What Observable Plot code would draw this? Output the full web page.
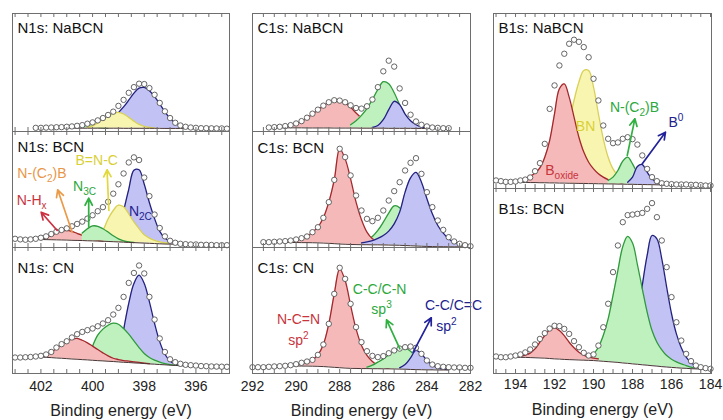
<!DOCTYPE html>
<html>
<head>
<meta charset="utf-8">
<script src="https://cdn.jsdelivr.net/npm/d3@7"></script>
<script src="https://cdn.jsdelivr.net/npm/@observablehq/plot@0.6"></script>
<style>
  html, body { margin: 0; padding: 0; background: #fff; }
  #fig { position: relative; width: 723px; height: 420px; overflow: hidden; background: #fff;
         font-family: "Liberation Sans", Arial, sans-serif; }
  #fig svg { position: absolute; overflow: visible; }
</style>
</head>
<body>
<div id="fig"></div>
<script>
const _ = null;

// ---------- energy grids (eV) ----------
const N1S_EV = [403.0,402.8,402.6,402.4,402.2,402.0,401.8,401.6,401.4,401.2,401.0,400.8,400.6,400.4,400.2,400.0,399.8,399.6,399.4,399.2,399.0,398.8,398.6,398.4,398.2,398.0,397.8,397.6,397.4,397.2,397.0,396.8,396.6,396.4,396.2,396.0,395.8,395.6,395.4,395.2,395.0,394.8];
const C1S_EV = [292.0,291.75,291.5,291.25,291.0,290.75,290.5,290.25,290.0,289.75,289.5,289.25,289.0,288.75,288.5,288.25,288.0,287.75,287.5,287.25,287.0,286.75,286.5,286.25,286.0,285.75,285.5,285.25,285.0,284.75,284.5,284.25,284.0,283.75,283.5,283.25,283.0,282.75,282.5,282.25,282.0];
const B1S_EV = [195.0,194.75,194.5,194.25,194.0,193.75,193.5,193.25,193.0,192.75,192.5,192.25,192.0,191.75,191.5,191.25,191.0,190.75,190.5,190.25,190.0,189.75,189.5,189.25,189.0,188.75,188.5,188.25,188.0,187.75,187.5,187.25,187.0,186.75,186.5,186.25,186.0,185.75,185.5,185.25,185.0,184.75,184.5,184.25,184.0];

// ---------- N1s ----------
const N1S_NABCN_OBS = [_,_,_,_,3.1, 3.1,3.3,3.4,3.6,3.7, 4.0,4.3,4.8,5.4,6.6, 7.7,9.4,11.4,14.0,16.8, 21.7,26.8,32.8,37.6,40.5, 40.2,36.8,31.1,24.2,17.1, 11.4,7.4,5.1,4.0,3.4, 3.1,2.8,2.8,2.7,2.6, 2.6,2.4];
const N1S_NABCN_BASE = [_,_,_,_,2.9, 2.9,2.9,2.9,2.9,2.9, 2.9,2.9,2.8,2.8,2.8, 2.8,2.8,2.8,2.8,2.8, 2.8,2.7,2.7,2.7,2.7, 2.7,2.7,2.7,2.7,2.6, 2.6,2.6,2.6,2.6,2.6, 2.6];
const N1S_NABCN_GREEN = [_,_,_,_,_, _,_,_,_,_, 3.4,3.8,4.4,5.0,5.0, 4.3,3.6,3.1,2.9];
const N1S_NABCN_YELLOW = [_,_,_,_,_, _,_,_,_,_, _,_,_,_,3.6, 4.8,7.4,10.5,13.4,15.4, 16.2,14.8,12.0,8.8,6.0, 4.3,3.4,3.0];
const N1S_NABCN_BLUE = [_,_,_,_,_, _,_,_,_,_, _,_,_,_,_, _,_,_,_,_, 16.0,20.8,26.5,32.5,36.8, 37.3,34.5,29.6,23.4,16.8, 11.1,7.1,4.8,3.7,3.1, 2.8];

const N1S_BCN_OBS = [7.5,7.0,6.7,7.0,7.5, 8.4,9.6,11.6,13.6,15.1, 16.5,18.3,20.3,22.3,24.9, 27.8,31.3,34.8,39.4,46.4, 54.5,63.8,73.3,77.7,75.4, 60.3,44.3,28.4,16.8,9.6, 5.8,4.1,3.2,2.9,2.6, 2.6,2.3,2.3,2.2,2.0, 2.0,2.0];
const N1S_BCN_BASE = [_,_,_,_,7.0, 6.9,6.8,6.7,6.6,6.5, 6.4,6.2,6.1,6.0,5.8, 5.7,5.5,5.4,5.2,5.0, 4.8,4.6,4.4,4.2,4.0, 3.8,3.6,3.4,3.2,3.0, 2.9,2.8,2.7,2.6,2.5, 2.4];
const N1S_BCN_RED = [_,_,_,_,_, 7.6,8.7,10.4,12.5,14.2, 14.8,13.9,12.2,10.4,8.7, 7.2,6.2,5.6];
const N1S_BCN_ORANGE = [_,_,_,_,_, _,_,7.5,8.6,9.8, 10.9,11.7,11.6,11.2,10.5, 9.8,9.0,8.2,7.4,6.5, 5.8,5.2,4.8];
const N1S_BCN_GREEN = [_,_,_,_,_, _,_,_,_,_, _,_,_,12.5,16.2, 18.6,18.3,16.2,13.3,10.1, 7.5,5.8,4.8,4.3];
const N1S_BCN_YELLOW = [_,_,_,_,_, _,_,_,_,_, _,_,_,_,_, _,8.1,14.5,24.6,31.9, 36.5,35.1,29.0,22.0,16.2, 11.0,8.1,6.1,4.9,4.1, 3.5];
const N1S_BCN_BLUE = [_,_,_,_,_, _,_,_,_,_, _,_,_,_,_, _,_,_,_,_, _,31.3,50.1,66.5,67.0, 54.5,38.6,24.9,13.9,8.1, 5.2,3.8,3.2,2.9,2.7, 2.5];

const N1S_CN_OBS = [12.7,12.7,12.9,13.1,13.5, 14.0,15.1,17.1,20.6,23.3, 25.6,28.6,31.2,33.0,34.4, 35.7,37.5,39.7,42.3,46.8, 52.1,60.8,71.9,79.8,85.7, 79.4,60.8,42.8,27.8,17.1, 11.3,9.0,7.7,6.9,6.6, 6.3,5.9,5.8,5.6,5.5, 5.4,5.3];
const N1S_CN_BASE = [_,_,_,_,_, 13.1,12.8,12.6,12.3,12.1, 11.8,11.5,11.3,11.0,10.8, 10.5,10.2,10.0,9.7,9.5, 9.2,8.9,8.7,8.4,8.2, 7.9,7.6,7.4,7.1,6.9, 6.6,6.4,6.2,6.0,5.9, 5.8];
const N1S_CN_RED = [_,_,_,_,_, 13.5,14.5,16.9,19.8,23.0, 25.6,27.2,27.8,26.4,24.3, 21.7,19.0,16.4,14.0,12.1, 11.1,10.3,9.8,9.3,8.8, 8.3,7.8];
const N1S_CN_GREEN = [_,_,_,_,_, _,_,_,_,_, _,_,_,_,_, 21.7,30.4,35.2,38.3,39.9, 39.1,35.7,31.2,25.9,20.6, 15.9,12.7,10.6,9.0,7.9, 7.1,6.6,6.3];
const N1S_CN_BLUE = [_,_,_,_,_, _,_,_,_,_, _,_,_,_,_, _,_,_,_,_, _,34.4,55.6,71.4,78.0, 71.4,56.8,39.7,25.1,15.3, 10.0,7.6,6.6,6.2,6.0];

// ---------- C1s ----------
const C1S_NABCN_OBS = [_,_,_,3.4,3.7, 4.0,4.6,5.4,6.8,8.8, 11.7,15.1,18.5,21.9,24.8, 26.5,26.2,24.8,22.2,19.9, 19.4,21.4,27.1,37.6,51.0, 60.0,55.0,36.5,24.2,14.2, 8.5,5.7,4.3,3.4,3.1, 2.8,2.8];
const C1S_NABCN_BASE = [_,_,_,3.2,3.2, 3.2,3.1,3.1,3.1,3.1, 3.0,3.0,3.0,3.0,3.0, 2.9,2.9,2.9,2.9,2.9, 2.8,2.8,2.8,2.8,2.8, 2.7,2.7,2.7,2.7,2.7, 2.6,2.6,2.6,2.6,2.6, 2.6,2.6];
const C1S_NABCN_RED = [_,_,_,_,_, _,4.3,5.1,6.6,8.5, 11.4,14.8,18.2,21.7,24.8, 26.5,26.2,24.2,20.5,15.7, 11.4,8.0,5.7,4.3,3.4];
const C1S_NABCN_GREEN = [_,_,_,_,_, _,_,_,_,_, _,_,_,_,_, _,_,_,5.7,9.1, 13.7,19.4,27.1,35.6,42.2, 40.5,32.8,22.8,14.2,8.5, 5.1,3.4,2.8];
const C1S_NABCN_BLUE = [_,_,_,_,_, _,_,_,_,_, _,_,_,_,_, _,_,_,_,_, _,_,3.4,5.1,10.0, 18.5,25.6,22.8,14.8,9.1, 5.7,3.7,2.8];

const C1S_BCN_OBS = [_,_,4.6,4.6,4.9, 5.2,5.5,6.0,6.9,8.0, 9.5,13.2,17.5,25.6,39.1, 58.3,85.1,77.9,62.1,44.8, 31.9,24.7,22.7,25.6,31.9, 40.5,48.6,56.3,66.4,73.0, 77.0,63.5,47.7,34.8,23.3, 15.2,8.9,5.2,3.2,2.0, 1.1];
const C1S_BCN_BASE = [_,_,4.4,4.4,4.4, 4.4,4.3,4.3,4.3,4.2, 4.2,4.1,4.0,3.8,3.6, 3.3,3.0,2.8,2.6,2.5, 2.4,2.4,2.3,2.3,2.2, 2.1,2.0,1.9,1.7,1.5, 1.3,1.1,0.9,0.8,0.7, 0.7,0.6,0.6,0.6,0.6, 0.6];
const C1S_BCN_RED = [_,_,_,_,_, 4.6,5.3,6.0,6.6,7.8, 9.5,13.2,17.5,25.6,39.1, 58.3,85.1,76.4,59.2,39.1, 23.9,13.2,7.5,5.2,4.3, 3.5];
const C1S_BCN_GREEN = [_,_,_,_,_, _,_,_,_,_, _,_,_,_,_, _,_,_,_,_, 5.2,6.6,9.5,14.7,21.8, 29.6,35.9,34.2,24.7,14.7, 8.3,5.2,3.7,2.8];
const C1S_BCN_BLUE = [_,_,_,_,_, _,_,_,_,_, _,_,_,_,_, _,_,_,_,_, 4.0,4.9,6.0,7.8,10.3, 14.1,20.4,30.5,47.7,60.1, 64.7,56.3,42.0,29.0,19.0, 12.4,7.5,4.6,3.2,2.0, 1.1];

const C1S_CN_OBS = [5.0,5.0,5.0,5.3,5.6, 5.8,6.1,6.6,7.4,8.5, 9.5,10.8,14.8,23.0,39.4, 63.2,83.9,75.1,55.3,36.8, 24.9,17.7,14.0,13.0,13.8, 16.1,18.3,19.8,20.9,21.4, 20.4,15.6,10.3,7.1,5.8, 5.3,5.0,4.8,4.8,4.5, 4.5];
const C1S_CN_BASE = [_,_,_,_,_, _,_,6.0,6.0,5.9, 5.9,5.8,5.7,5.5,5.2, 4.9,4.6,4.3,4.1,4.0, 3.9,3.9,3.8,3.8,3.7, 3.7,3.6,3.5,3.4,3.2, 3.1,3.0,2.9,2.9,2.8, 2.8,2.8];
const C1S_CN_RED = [_,_,_,_,_, _,_,_,6.6,7.7, 9.0,10.8,14.8,23.0,39.4, 63.2,83.1,73.8,54.0,35.4, 22.2,14.3,9.5,6.6,5.0, 4.3];
const C1S_CN_GREEN = [_,_,_,_,_, _,_,_,_,_, _,_,_,_,_, _,_,_,_,_, _,5.0,6.6,9.0,11.6, 14.8,18.3,20.4,20.4,17.7, 13.0,8.2,5.0,3.4];
const C1S_CN_BLUE = [_,_,_,_,_, _,_,_,_,_, _,_,_,_,_, _,_,_,_,_, _,_,_,_,_, _,_,4.5,7.1,12.4, 18.3,15.6,10.3,6.6,4.5, 3.4,3.1];

// ---------- B1s ----------
const B1S_NABCN_OBS = [4.6,4.2,3.8,3.8,4.0, 4.6,5.1,6.3,9.9,14.5, 25.5,45.5,58.9,70.3,77.0, 82.7,85.0,83.8,80.8,75.0, 62.7,50.3,36.0,28.4,25.9, 26.3,28.4,29.3,28.2,25.1, 18.9,11.2,6.5,4.2,3.0, 2.7,2.5,2.3,2.3,2.3, 2.1,2.1,1.9,1.7,1.7];
const B1S_NABCN_BASE = [_,_,_,3.6,3.6, 3.5,3.5,3.4,3.4,3.3, 3.3,3.2,3.2,3.1,3.1, 3.0,3.0,2.9,2.9,2.8, 2.8,2.7,2.7,2.6,2.6, 2.5,2.5,2.4,2.4,2.3, 2.3,2.2,2.2,2.1,2.1, 2.0,2.0];
const B1S_NABCN_RED = [_,_,_,3.8,4.2, 5.0,5.7,6.9,8.8,11.8, 17.9,27.4,42.7,57.0,59.8, 52.2,40.8,29.3,20.8,15.0, 11.2,8.4,6.5,5.1,4.2, 3.6,3.0];
const B1S_NABCN_YELLOW = [_,_,_,_,_, _,_,_,_,_, _,_,_,_,_, 38.0,50.3,60.8,67.4,67.4, 57.9,42.7,28.4,17.9,11.2, 7.4,5.0,3.6,2.8];
const B1S_NABCN_GREEN = [_,_,_,_,_, _,_,_,_,_, _,_,_,_,_, _,_,_,_,_, _,_,_,4.6,6.5, 10.3,15.6,17.9,14.1,8.8, 5.5,4.0,3.2];
const B1S_NABCN_BLUE = [_,_,_,_,_, _,_,_,_,_, _,_,_,_,_, _,_,_,_,_, _,_,_,_,_, _,_,3.6,6.5,12.6, 13.7,9.3,5.5,3.6,2.9, 2.4];

const B1S_BCN_OBS = [9.2,8.8,8.8,9.2,9.7, 10.3,11.4,13.0,15.7,18.7, 21.8,24.3,25.8,25.6,24.1, 21.4,17.5,14.2,11.2,9.7, 10.3,15.1,25.0,37.7,54.8, 69.2,81.8,85.6,85.9,86.3, 86.8,89.0,92.1,84.5,71.9, 57.5,41.3,27.7,17.8,10.6, 6.7,4.3,3.4,2.9,2.5];
const B1S_BCN_BASE = [8.8,8.8,8.8,8.8,8.8, 8.7,8.7,8.6,8.5,8.4, 8.3,8.1,7.9,7.8,7.6, 7.5,7.4,7.3,7.2,7.1, 7.0,6.8,6.6,6.4,6.2, 6.0,5.7,5.5,5.2,5.0, 4.7,4.5,4.2,4.0,3.7, 3.5,3.3,3.1,2.9,2.8, 2.6,2.5,2.4,2.3,2.2];
const B1S_BCN_RED = [_,_,_,_,_, 9.2,9.9,11.0,13.3,16.9, 20.5,23.6,24.7,23.2,20.5, 16.9,13.9,11.5,9.9,8.8, 8.3,7.9];
const B1S_BCN_GREEN = [_,_,_,_,_, _,_,_,_,_, _,_,_,_,_, _,_,_,7.9,8.8, 10.6,14.2,20.5,29.5,42.2, 55.7,68.6,74.1,70.5,58.9, 45.8,33.2,23.2,16.9,12.8, 9.7,7.7,6.3,5.2,4.3, 3.4,2.9];
const B1S_BCN_BLUE = [_,_,_,_,_, _,_,_,_,_, _,_,_,_,_, _,_,_,_,_, _,_,_,_,_, _,_,_,_,30.0, 47.6,63.8,74.6,72.8,62.0, 46.7,32.3,21.4,13.9,8.8, 5.9,4.1,3.2,2.7,2.3];

// ---------- tick labels / titles ----------
const N1S_TICKS = [402, 400, 398, 396];
const C1S_TICKS = [292, 290, 288, 286, 284, 282];
const B1S_TICKS = [194, 192, 190, 188, 186, 184];
const AXIS_TITLE = "Binding energy (eV)";

// ---------- annotations (eV, intensity) ----------
const N1S_BCN_LABELS = [
  {t: "N-H_{x}", x: 402.36, y: 40.5, k: "red"},
  {t: "N-(C_{2})B", x: 401.96, y: 63.8, k: "orange"},
  {t: "N_{3C}", x: 400.31, y: 52.6, k: "green"},
  {t: "B=N-C", x: 399.84, y: 74.6, k: "yellow"},
  {t: "N_{2C}", x: 398.15, y: 31.0, k: "blue"}
];
const N1S_BCN_ARROWS = [
  {x1: 401.37, y1: 14.7, x2: 401.99, y2: 30.4, k: "red"},
  {x1: 400.79, y1: 13.2, x2: 401.35, y2: 49.7, k: "orange"},
  {x1: 400.15, y1: 18.1, x2: 400.15, y2: 42.5, k: "green"},
  {x1: 399.37, y1: 31.9, x2: 399.44, y2: 67.0, k: "yellow"}
];
const C1S_CN_LABELS = [
  {t: "N-C=N", x: 289.89, y: 42.7, k: "red"},
  {t: "sp^{2}", x: 289.89, y: 26.2, k: "red"},
  {t: "C-C/C-N", x: 286.17, y: 66.7, k: "green"},
  {t: "sp^{3}", x: 286.08, y: 50.8, k: "green"},
  {t: "C-C/C=C", x: 282.78, y: 54.0, k: "blue"},
  {t: "sp^{2}", x: 283.10, y: 37.3, k: "blue"}
];
const C1S_CN_ARROWS = [
  {x1: 285.24, y1: 19.6, x2: 285.85, y2: 42.6, k: "green"},
  {x1: 284.63, y1: 16.9, x2: 283.80, y2: 44.2, k: "blue"}
];
const B1S_NABCN_LABELS = [
  {t: "BN", x: 190.41, y: 35.4, k: "yellow"},
  {t: "B_{oxide}", x: 191.62, y: 10.3, k: "red"},
  {t: "N-(C_{2})B", x: 187.90, y: 46.3, k: "green"},
  {t: "B^{0}", x: 185.77, y: 37.7, k: "blue"}
];
const B1S_NABCN_ARROWS = [
  {x1: 188.27, y1: 18.9, x2: 187.88, y2: 39.8, k: "green"},
  {x1: 187.50, y1: 14.1, x2: 186.31, y2: 32.2, k: "blue"}
];

// ---------- styles & layout ----------
const FILL = {red: "#f5b9b9", green: "#bff1bf", blue: "#c2c2f4", yellow: "#f8f5b0", orange: "#fbd8b4"};
const LINE = {red: "#a3282c", green: "#2f9a3c", blue: "#22227e", yellow: "#d8d058", orange: "#e0913c"};
const LABEL_COLOR = {red: "#c8343c", orange: "#e8964a", green: "#2ca83c", yellow: "#d9cf36", blue: "#22228e"};
const ARROW_COLOR = {red: "#cc3040", orange: "#eb9a48", green: "#30b040", yellow: "#e2d83c", blue: "#22229a"};

const COL_LEFT = [12, 252, 493];
const COL_W = [217, 218, 218];
const DOMAINS = [[403.1, 394.7], [292, 282], [195.13, 183.95]];
const ROW_TOP = [[13, 131, 247], [13, 131, 247], [13, 188]];
const ROW_H = [[118, 116, 126], [118, 116, 126], [175, 185]];
const TICKLABEL_DY = [13, 13, 11];
const TITLE_DY = [37, 37, 36];
const MINOR = [d3.range(395, 403.01, 0.5), d3.range(282, 292.01, 0.5), d3.range(184, 195.01, 0.5)];
const TICK_LABELS = [N1S_TICKS, C1S_TICKS, B1S_TICKS];

const PANELS = [
  {col: 0, row: 0, title: "N1s: NaBCN", titleDy: 14.5, ev: N1S_EV, obs: N1S_NABCN_OBS, base: N1S_NABCN_BASE,
   comps: [["blue", N1S_NABCN_BLUE], ["green", N1S_NABCN_GREEN], ["yellow", N1S_NABCN_YELLOW]]},
  {col: 0, row: 1, title: "N1s: BCN", titleDy: 16, ev: N1S_EV, obs: N1S_BCN_OBS, base: N1S_BCN_BASE,
   comps: [["blue", N1S_BCN_BLUE], ["yellow", N1S_BCN_YELLOW], ["orange", N1S_BCN_ORANGE], ["red", N1S_BCN_RED], ["green", N1S_BCN_GREEN]],
   labels: N1S_BCN_LABELS, arrows: N1S_BCN_ARROWS},
  {col: 0, row: 2, title: "N1s: CN", titleDy: 20.5, ev: N1S_EV, obs: N1S_CN_OBS, base: N1S_CN_BASE,
   comps: [["blue", N1S_CN_BLUE], ["green", N1S_CN_GREEN], ["red", N1S_CN_RED]]},
  {col: 1, row: 0, title: "C1s: NaBCN", titleDy: 14.5, ev: C1S_EV, obs: C1S_NABCN_OBS, base: C1S_NABCN_BASE,
   comps: [["red", C1S_NABCN_RED], ["green", C1S_NABCN_GREEN], ["blue", C1S_NABCN_BLUE]]},
  {col: 1, row: 1, title: "C1s: BCN", titleDy: 17, ev: C1S_EV, obs: C1S_BCN_OBS, base: C1S_BCN_BASE,
   comps: [["green", C1S_BCN_GREEN], ["red", C1S_BCN_RED], ["blue", C1S_BCN_BLUE]]},
  {col: 1, row: 2, title: "C1s: CN", titleDy: 21, ev: C1S_EV, obs: C1S_CN_OBS, base: C1S_CN_BASE,
   comps: [["red", C1S_CN_RED], ["green", C1S_CN_GREEN], ["blue", C1S_CN_BLUE]],
   labels: C1S_CN_LABELS, arrows: C1S_CN_ARROWS},
  {col: 2, row: 0, title: "B1s: NaBCN", titleDy: 14.5, ev: B1S_EV, obs: B1S_NABCN_OBS, base: B1S_NABCN_BASE,
   comps: [["yellow", B1S_NABCN_YELLOW], ["red", B1S_NABCN_RED], ["green", B1S_NABCN_GREEN], ["blue", B1S_NABCN_BLUE]],
   labels: B1S_NABCN_LABELS, arrows: B1S_NABCN_ARROWS},
  {col: 2, row: 1, title: "B1s: BCN", titleDy: 21, ev: B1S_EV, obs: B1S_BCN_OBS, base: B1S_BCN_BASE,
   comps: [["blue", B1S_BCN_BLUE], ["green", B1S_BCN_GREEN], ["red", B1S_BCN_RED]]}
];

// sub/superscript markup  _{..}  ^{..}  -> tspans
function rich(svg, fs) {
  svg.querySelectorAll("text").forEach(el => {
    const s = el.textContent;
    if (!/[_^]\{/.test(s)) return;
    el.textContent = "";
    const re = /([_^])\{([^}]*)\}|([^_^]+)/g;
    let m, shift = 0;
    while ((m = re.exec(s))) {
      const t = document.createElementNS("http://www.w3.org/2000/svg", "tspan");
      if (m[3] !== undefined) {
        t.textContent = m[3];
        if (shift) t.setAttribute("dy", String(-shift));
        shift = 0;
      } else {
        const d = m[1] === "_" ? 0.28 * fs : -0.4 * fs;
        t.textContent = m[2];
        t.setAttribute("dy", String(d - shift));
        t.setAttribute("font-size", String(0.72 * fs));
        shift = d;
      }
      el.appendChild(t);
    }
  });
}

const fig = document.getElementById("fig");
for (const p of PANELS) {
  const c = p.col;
  const left = COL_LEFT[c], width = COL_W[c];
  const top = ROW_TOP[c][p.row], h = ROW_H[c][p.row];
  const bottom = p.row === ROW_TOP[c].length - 1;
  const mb = bottom ? 48 : 0;
  const pts = p.ev.map((x, i) => ({x, obs: p.obs[i], base: p.base[i]}));
  const marks = [];
  for (const [key, vals] of p.comps) {
    const d = p.ev.map((x, i) => ({x, y1: p.base[i], y2: vals[i]})).filter(r => r.y1 != null && r.y2 != null);
    marks.push(Plot.areaY(d, {x: "x", y1: "y1", y2: "y2", fill: FILL[key], curve: "catmull-rom"}));
    marks.push(Plot.line(d, {x: "x", y: "y2", stroke: LINE[key], strokeWidth: 1.3, curve: "catmull-rom"}));
  }
  marks.push(Plot.line(pts.filter(r => r.base != null), {x: "x", y: "base", stroke: "#4a3434", strokeWidth: 1}));
  marks.push(Plot.dot(pts.filter(r => r.obs != null), {x: "x", y: "obs", r: 2.7, fill: "#fff", stroke: "#555", strokeWidth: 0.9}));
  if (p.arrows) marks.push(Plot.arrow(p.arrows, {x1: "x1", y1: "y1", x2: "x2", y2: "y2",
      stroke: d => ARROW_COLOR[d.k], strokeWidth: 1.7, headLength: 7, headAngle: 55}));
  if (p.labels) marks.push(Plot.text(p.labels, {x: "x", y: "y", text: "t", fill: d => LABEL_COLOR[d.k],
      fontSize: 14, lineAnchor: "middle"}));
  marks.push(Plot.frame({stroke: "#6e6e6e"}));
  marks.push(Plot.tickX(MINOR[c], {x: d => d, stroke: "#6e6e6e", insetTop: h - 4}));
  marks.push(Plot.tickX(MINOR[c], {x: d => d, stroke: "#6e6e6e", insetBottom: h - 4}));
  marks.push(Plot.text([p.title], {text: d => d, frameAnchor: "top-left", dx: 5, dy: p.titleDy,
      textAnchor: "start", lineAnchor: "middle", fontSize: 15, fill: "#111"}));
  if (bottom) {
    marks.push(Plot.text(TICK_LABELS[c], {x: d => d, text: d => String(d), frameAnchor: "bottom",
        dy: TICKLABEL_DY[c], lineAnchor: "middle", fontSize: 14, fill: "#222"}));
    marks.push(Plot.text([AXIS_TITLE], {text: d => d, frameAnchor: "bottom", dy: TITLE_DY[c],
        lineAnchor: "middle", fontSize: 16, fill: "#222"}));
  }
  const svg = Plot.plot({
    width, height: h + mb, marginTop: 0, marginRight: 0, marginBottom: mb, marginLeft: 0,
    x: {domain: DOMAINS[c], axis: null},
    y: {domain: [0, 100], axis: null},
    color: {type: "identity"},
    style: {background: "transparent", overflow: "visible", fontFamily: "'Liberation Sans', Arial, sans-serif"},
    marks
  });
  svg.style.left = left + "px";
  svg.style.top = top + "px";
  svg.style.overflow = "visible";
  fig.appendChild(svg);
  rich(svg, 14);
}
</script>
</body>
</html>
